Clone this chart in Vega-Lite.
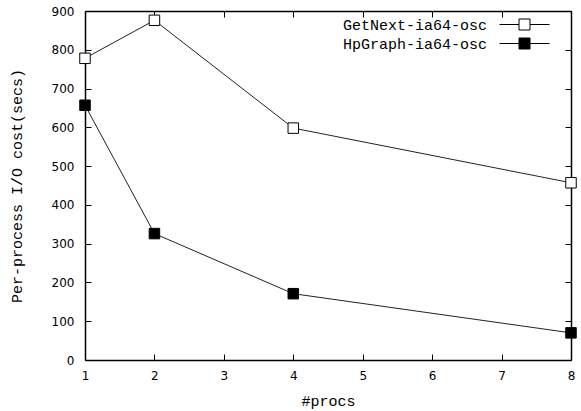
{
  "$schema": "https://vega.github.io/schema/vega-lite/v6.json",
  "width": 486,
  "height": 349,
  "autosize": "none",
  "padding": {"left": 85, "top": 11, "right": 10, "bottom": 51},
  "background": "white",
  "config": {
    "view": {"stroke": null},
    "axis": {
      "domainColor": "black",
      "domainWidth": 1.5,
      "tickColor": "black",
      "tickWidth": 1,
      "tickSize": -6,
      "grid": false,
      "labelFont": "DejaVu Sans",
      "labelFontSize": 12,
      "labelColor": "black",
      "titleFont": "Liberation Mono",
      "titleFontSize": 15,
      "titleFontWeight": "normal",
      "titleColor": "black"
    }
  },
  "data": {
    "values": [
      {"procs": 1, "cost": 778, "series": "GetNext-ia64-osc"},
      {"procs": 2, "cost": 876, "series": "GetNext-ia64-osc"},
      {"procs": 4, "cost": 598, "series": "GetNext-ia64-osc"},
      {"procs": 8, "cost": 457, "series": "GetNext-ia64-osc"},
      {"procs": 1, "cost": 657, "series": "HpGraph-ia64-osc"},
      {"procs": 2, "cost": 326, "series": "HpGraph-ia64-osc"},
      {"procs": 4, "cost": 171, "series": "HpGraph-ia64-osc"},
      {"procs": 8, "cost": 70, "series": "HpGraph-ia64-osc"}
    ]
  },
  "layer": [
    {
      "mark": {"type": "line", "color": "#222222", "strokeWidth": 1},
      "encoding": {
        "x": {
          "field": "procs", "type": "quantitative",
          "scale": {"domain": [1, 8], "nice": false, "zero": false},
          "axis": {"orient": "bottom", "values": [1,2,3,4,5,6,7,8], "title": "#procs", "labelPadding": 16, "titlePadding": 12, "labelFlush": false}
        },
        "y": {
          "field": "cost", "type": "quantitative",
          "scale": {"domain": [0, 900], "nice": false},
          "axis": {"orient": "left", "values": [0,100,200,300,400,500,600,700,800,900], "title": "Per-process I/O cost(secs)", "labelPadding": 17, "titlePadding": 27, "labelFlush": false}
        },
        "detail": {"field": "series", "type": "nominal"}
      }
    },
    {
      "mark": {"type": "point", "shape": "square", "size": 110, "stroke": "black", "strokeWidth": 1, "opacity": 1},
      "encoding": {
        "x": {
          "field": "procs", "type": "quantitative",
          "axis": {"orient": "top", "values": [1,2,3,4,5,6,7,8], "labels": false, "title": null}
        },
        "y": {
          "field": "cost", "type": "quantitative",
          "axis": {"orient": "right", "values": [0,100,200,300,400,500,600,700,800,900], "labels": false, "title": null}
        },
        "fill": {
          "field": "series", "type": "nominal",
          "scale": {"domain": ["GetNext-ia64-osc", "HpGraph-ia64-osc"], "range": ["white", "black"]},
          "legend": {
            "title": null,
            "orient": "none",
            "legendX": 429,
            "legendY": 3,
            "symbolType": "M-2.5,0H-0.55M0.55,0H2.5M-0.55,-0.55H0.55V0.55H-0.55Z",
            "symbolSize": 400,
            "symbolStrokeColor": "black",
            "symbolStrokeWidth": 1,
            "labelAlign": "right",
            "labelOffset": -48,
            "labelFont": "Liberation Mono",
            "labelFontSize": 15,
            "labelColor": "black",
            "rowPadding": 0
          }
        }
      }
    }
  ],
  "resolve": {"axis": {"x": "independent", "y": "independent"}}
}
